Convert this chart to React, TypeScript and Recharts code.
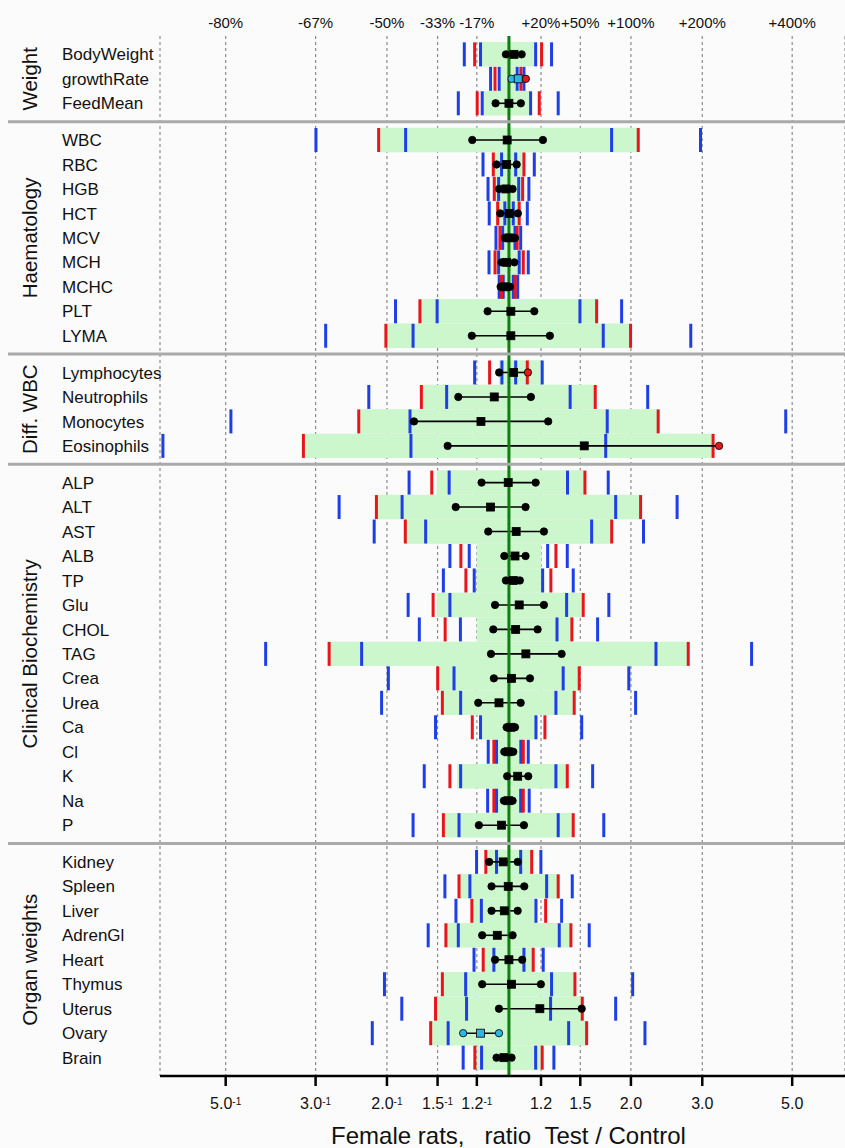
import {
  ScatterChart,
  Scatter,
  XAxis,
  YAxis,
  CartesianGrid,
  ReferenceArea,
  ReferenceLine,
} from 'recharts';

// parameter rows, grouped
const GROUP_NAMES = ['Weight', 'Haematology', 'Diff. WBC', 'Clinical Biochemistry', 'Organ weights'];
const GROUP_SIZES = [3, 9, 4, 15, 9];
const ROW_NAMES = [
  'BodyWeight', 'growthRate', 'FeedMean',
  'WBC', 'RBC', 'HGB', 'HCT', 'MCV', 'MCH', 'MCHC', 'PLT', 'LYMA',
  'Lymphocytes', 'Neutrophils', 'Monocytes', 'Eosinophils',
  'ALP', 'ALT', 'AST', 'ALB', 'TP', 'Glu', 'CHOL', 'TAG', 'Crea', 'Urea', 'Ca', 'Cl', 'K', 'Na', 'P',
  'Kidney', 'Spleen', 'Liver', 'AdrenGl', 'Heart', 'Thymus', 'Uterus', 'Ovary', 'Brain',
];

// ratios Test / Control
const BLUE_OUTER_LO = [0.776, 0.901, 0.75, 0.334, 0.863, 0.888, 0.894, 0.929, 0.893, 0.946, 0.525, 0.353, 0.823, 0.451, 0.206, 0.14, 0.567, 0.381, 0.465, 0.715, 0.689, 0.564, 0.601, 0.251, 0.504, 0.485, 0.659, 0.889, 0.618, 0.886, 0.58, 0.832, 0.695, 0.74, 0.632, 0.82, 0.493, 0.544, 0.46, 0.771];
const RED_LO = [0.823, 0.924, 0.835, 0.477, 0.915, 0.92, 0.938, 0.95, 0.924, 0.959, 0.603, 0.497, 0.896, 0.608, 0.426, 0.311, 0.645, 0.471, 0.555, 0.761, 0.783, 0.65, 0.696, 0.36, 0.667, 0.685, 0.812, 0.918, 0.715, 0.918, 0.689, 0.877, 0.753, 0.81, 0.699, 0.864, 0.685, 0.659, 0.641, 0.824];
const BLUE_INNER_LO = [0.851, 0.946, 0.859, 0.556, 0.959, 0.943, 0.977, 0.965, 0.943, 0.968, 0.665, 0.58, 0.961, 0.702, 0.57, 0.573, 0.712, 0.545, 0.623, 0.798, 0.821, 0.715, 0.759, 0.433, 0.732, 0.76, 0.851, 0.932, 0.76, 0.932, 0.753, 0.932, 0.801, 0.855, 0.75, 0.918, 0.782, 0.786, 0.708, 0.856];
const BLUE_INNER_HI = [1.164, 1.048, 1.131, 1.792, 1.039, 1.057, 1.025, 1.035, 1.06, 1.025, 1.497, 1.709, 1.039, 1.416, 1.748, 1.733, 1.395, 1.834, 1.6, 1.246, 1.211, 1.388, 1.314, 2.306, 1.361, 1.306, 1.166, 1.07, 1.306, 1.069, 1.323, 1.069, 1.239, 1.166, 1.331, 1.089, 1.274, 1.267, 1.404, 1.164];
const RED_HI = [1.204, 1.07, 1.188, 2.085, 1.089, 1.081, 1.06, 1.048, 1.085, 1.036, 1.646, 1.996, 1.11, 1.633, 2.335, 3.19, 1.54, 2.113, 1.793, 1.306, 1.269, 1.525, 1.43, 2.77, 1.491, 1.449, 1.227, 1.085, 1.393, 1.085, 1.441, 1.138, 1.323, 1.232, 1.422, 1.148, 1.455, 1.517, 1.555, 1.208];
const BLUE_OUTER_HI = [1.274, 1.089, 1.323, 2.97, 1.155, 1.12, 1.11, 1.069, 1.116, 1.051, 1.897, 2.81, 1.208, 2.2, 4.82, null, 1.758, 2.6, 2.148, 1.393, 1.441, 1.764, 1.655, 3.97, 1.976, 2.054, 1.512, 1.116, 1.609, 1.122, 1.714, 1.199, 1.433, 1.349, 1.578, 1.215, 2.02, 1.834, 2.166, 1.291];
const CI_LO = [0.983, 1.015, 0.927, 0.812, 0.932, 0.946, 0.952, 0.977, 0.959, 0.954, 0.886, 0.81, 0.946, 0.75, 0.583, 0.706, 0.856, 0.739, 0.889, 0.974, 0.983, 0.924, 0.915, 0.903, 0.918, 0.84, 0.987, 0.974, 0.99, 0.972, 0.843, 0.894, 0.906, 0.906, 0.859, 0.924, 0.859, 0.945, 0.771, 0.932];
const ESTIMATE = [1.029, 1.054, 1.0, 0.99, 0.987, 0.983, 1.002, 1.002, 0.987, 0.977, 1.011, 1.011, 1.027, 0.92, 0.853, 1.534, 0.996, 0.901, 1.042, 1.035, 1.025, 1.06, 1.039, 1.101, 1.015, 0.945, 1.01, 0.996, 1.051, 0.996, 0.959, 0.968, 0.996, 0.974, 0.936, 1.0, 1.015, 1.192, 0.851, 0.972];
const CI_HI = [1.075, 1.101, 1.07, 1.213, 1.045, 1.021, 1.052, 1.035, 1.031, 1.006, 1.155, 1.262, 1.114, 1.133, 1.25, 3.3, 1.164, 1.099, 1.22, 1.099, 1.064, 1.22, 1.177, 1.349, 1.127, 1.069, 1.035, 1.025, 1.116, 1.021, 1.089, 1.051, 1.091, 1.051, 1.021, 1.078, 1.199, 1.512, 0.945, 1.015];
const BAND_LO = [0.851, 0.946, 0.859, 0.477, 0.915, 0.92, 0.938, 0.95, 0.924, 0.959, 0.603, 0.497, 0.945, 0.608, 0.426, 0.311, 0.663, 0.471, 0.555, 0.833, 0.833, 0.663, 0.833, 0.36, 0.667, 0.685, 0.851, 0.932, 0.745, 0.932, 0.689, 0.889, 0.753, 0.81, 0.699, 0.864, 0.685, 0.659, 0.641, 0.835];
const BAND_HI = [1.164, 1.048, 1.131, 2.085, 1.089, 1.081, 1.06, 1.048, 1.085, 1.036, 1.646, 1.996, 1.208, 1.633, 2.335, 3.19, 1.53, 2.113, 1.793, 1.2, 1.2, 1.51, 1.43, 2.77, 1.491, 1.449, 1.166, 1.07, 1.393, 1.069, 1.441, 1.138, 1.323, 1.166, 1.422, 1.148, 1.455, 1.517, 1.555, 1.2];

// flagged markers: [ci low, estimate, ci high]; c = cyan, r = red
const MARK_FLAGS: Record<string, string[]> = {
  growthRate: ['c', 'c', 'r'],
  Lymphocytes: ['k', 'k', 'r'],
  Eosinophils: ['k', 'k', 'r'],
  Ovary: ['c', 'c', 'c'],
};

const X_TICKS = [1 / 5, 1 / 3, 1 / 2, 1 / 1.5, 1 / 1.2, 1.2, 1.5, 2, 3, 5];
const TOP_LABELS = ['-80%', '-67%', '-50%', '-33%', '-17%', '+20%', '+50%', '+100%', '+200%', '+400%'];
const BOTTOM_LABELS = ['5.0', '3.0', '2.0', '1.5', '1.2', '1.2', '1.5', '2.0', '3.0', '5.0'];
const BOTTOM_EXP = ['-1', '-1', '-1', '-1', '-1', '', '', '', '', ''];

const X_DOMAIN = [0.1377, 6.75];
const FONT = '"Liberation Sans", Arial, sans-serif';
const BLUE = '#1e3ee6';
const RED = '#e8161c';
const MARK_FILL: Record<string, string> = { k: '#000000', c: '#2bb6e6', r: '#e31a1a' };

// vertical position of each row, groups separated by half a row
const GROUP_OF_ROW: number[] = GROUP_SIZES.flatMap((n, g) => Array(n).fill(g));
const ROW_Y = GROUP_OF_ROW.map((g, i) => i + 0.5 * g);
const Y_DOMAIN = [-0.75, ROW_Y[ROW_Y.length - 1] + 0.75];

const groupFirst = GROUP_SIZES.map((_, g) => GROUP_OF_ROW.indexOf(g));
const groupLast = GROUP_SIZES.map((_, g) => GROUP_OF_ROW.lastIndexOf(g));
const GROUP_CENTRES = GROUP_SIZES.map((_, g) => (ROW_Y[groupFirst[g]] + ROW_Y[groupLast[g]]) / 2);
const SEPARATORS = GROUP_SIZES.slice(0, -1).map((_, g) => ROW_Y[groupLast[g]] + 0.75);

const flag = (name: string, j: number) => (MARK_FLAGS[name] ? MARK_FLAGS[name][j] : 'k');

const dots = ROW_NAMES.flatMap((name, i) => [
  { x: CI_LO[i], y: ROW_Y[i], fill: MARK_FILL[flag(name, 0)] },
  { x: CI_HI[i], y: ROW_Y[i], fill: MARK_FILL[flag(name, 2)] },
]);
const squares = ROW_NAMES.map((name, i) => ({ x: ESTIMATE[i], y: ROW_Y[i], fill: MARK_FILL[flag(name, 1)] }));

const LIMIT_SERIES: Array<{ values: Array<number | null>; colour: string }> = [
  { values: BLUE_OUTER_LO, colour: BLUE },
  { values: BLUE_OUTER_HI, colour: BLUE },
  { values: BLUE_INNER_LO, colour: BLUE },
  { values: BLUE_INNER_HI, colour: BLUE },
  { values: RED_LO, colour: RED },
  { values: RED_HI, colour: RED },
];

// bottom ratio label plus the matching percent change above the plot
function XTick(props: any) {
  const { x, y, index } = props;
  return (
    <g>
      <text x={x} y={28} textAnchor="middle" fontSize={15} fontFamily={FONT} fill="#111">
        {TOP_LABELS[index]}
      </text>
      <text x={x} y={y + 21} textAnchor="middle" fontSize={16} fontFamily={FONT} fill="#111">
        <tspan>{BOTTOM_LABELS[index]}</tspan>
        {BOTTOM_EXP[index] && (
          <tspan fontSize={10} dy={-4}>
            {BOTTOM_EXP[index]}
          </tspan>
        )}
      </text>
    </g>
  );
}

function RowTick(props: any) {
  const { y, payload } = props;
  const i = ROW_Y.indexOf(payload.value);
  return (
    <text x={62} y={y} dy="0.36em" fontSize={17} fontFamily={FONT} fill="#111">
      {ROW_NAMES[i]}
    </text>
  );
}

function GroupTick(props: any) {
  const { y, payload } = props;
  const s = SEPARATORS.indexOf(payload.value);
  if (s >= 0) {
    return <line x1={8} x2={845} y1={y} y2={y} stroke="#aaaaaa" strokeWidth={3} />;
  }
  const g = GROUP_CENTRES.indexOf(payload.value);
  return (
    <text
      x={37}
      y={y}
      transform={`rotate(-90, 37, ${y})`}
      textAnchor="middle"
      fontSize={20.5}
      fontFamily={FONT}
      fill="#111"
    >
      {GROUP_NAMES[g]}
    </text>
  );
}

function Dot(props: any) {
  const { cx, cy, payload } = props;
  return <circle cx={cx} cy={cy} r={3.7} fill={payload.fill} stroke="#000" strokeWidth={0.8} />;
}

function Square(props: any) {
  const { cx, cy, payload } = props;
  return <rect x={cx - 4} y={cy - 4} width={8} height={8} fill={payload.fill} stroke="#000" strokeWidth={0.8} />;
}

function AxisTitle(props: any) {
  const { viewBox } = props;
  return (
    <text
      x={viewBox.x + viewBox.width / 2 + 6}
      y={viewBox.y + viewBox.height - 4}
      textAnchor="middle"
      fontSize={24}
      fontFamily={FONT}
      fill="#111"
    >
      {'Female rats,\u00a0\u00a0\u00a0ratio\u00a0\u00a0Test / Control'}
    </text>
  );
}

export default function App() {
  return (
    <div
      style={{
        position: 'absolute',
        left: 0,
        top: 0,
        width: 845,
        height: 1148,
        background: '#fbfbfb',
        overflow: 'hidden',
      }}
    >
      <ScatterChart width={845} height={1148} margin={{ top: 36, right: 0, bottom: 0, left: 0 }}>
        <CartesianGrid horizontal={false} strokeDasharray="3 3" stroke="#8c8c8c" strokeWidth={1.2} />
        <XAxis
          type="number"
          dataKey="x"
          scale="log"
          domain={X_DOMAIN}
          allowDataOverflow
          ticks={X_TICKS}
          interval={0}
          height={72}
          axisLine={{ stroke: '#000', strokeWidth: 2.5 }}
          tickLine={{ stroke: '#000', strokeWidth: 2.5 }}
          tickSize={10}
          tick={<XTick />}
          label={<AxisTitle />}
        />
        <YAxis
          type="number"
          dataKey="y"
          domain={Y_DOMAIN}
          reversed
          allowDataOverflow
          ticks={ROW_Y}
          interval={0}
          width={110}
          axisLine={false}
          tickLine={false}
          tick={<RowTick />}
        />
        <YAxis
          yAxisId="groups"
          type="number"
          domain={Y_DOMAIN}
          reversed
          allowDataOverflow
          ticks={[...SEPARATORS, ...GROUP_CENTRES]}
          interval={0}
          width={50}
          axisLine={false}
          tickLine={false}
          tick={<GroupTick />}
        />

        {ROW_NAMES.map((name, i) => (
          <ReferenceArea
            key={`band-${name}`}
            x1={BAND_LO[i]}
            x2={BAND_HI[i]}
            y1={ROW_Y[i] - 0.5}
            y2={ROW_Y[i] + 0.5}
            fill="#ccf6cc"
            fillOpacity={1}
            stroke="none"
          />
        ))}

        {LIMIT_SERIES.flatMap((s, j) =>
          ROW_NAMES.map((name, i) =>
            s.values[i] == null ? null : (
              <ReferenceLine
                key={`lim-${j}-${name}`}
                segment={[
                  { x: s.values[i] as number, y: ROW_Y[i] - 0.49 },
                  { x: s.values[i] as number, y: ROW_Y[i] + 0.49 },
                ]}
                stroke={s.colour}
                strokeWidth={3}
              />
            ),
          ),
        )}

        {ROW_NAMES.map((name, i) => (
          <ReferenceLine
            key={`ci-${name}`}
            segment={[
              { x: CI_LO[i], y: ROW_Y[i] },
              { x: CI_HI[i], y: ROW_Y[i] },
            ]}
            stroke="#000"
            strokeWidth={1.6}
          />
        ))}

        <ReferenceLine x={1} stroke="#0f7d0f" strokeWidth={3} />

        <Scatter data={dots} shape={<Dot />} isAnimationActive={false} />
        <Scatter data={squares} shape={<Square />} isAnimationActive={false} />
      </ScatterChart>
    </div>
  );
}
